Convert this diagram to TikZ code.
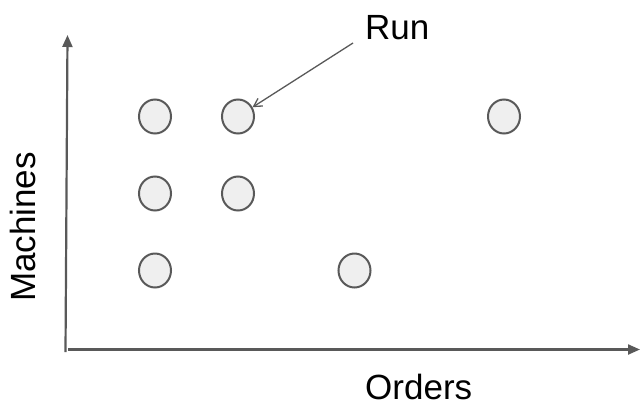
\documentclass[tikz,border=0pt]{standalone}
\usepackage{fontspec}
\setmainfont{Liberation Sans}
\usetikzlibrary{arrows.meta,shapes.geometric}
\definecolor{axisgray}{HTML}{595959}
\definecolor{dotfill}{HTML}{EFEFEF}
\begin{document}
\begin{tikzpicture}[x=1pt,y=-1pt,
  dot/.style={ellipse,draw=axisgray,fill=dotfill,line width=2pt,minimum width=32pt,minimum height=34pt,inner sep=0pt},
  axis/.style={draw=axisgray,line width=2.2pt,-{Triangle[length=12pt,width=10pt]}},
  pointer/.style={draw=axisgray,line width=1.3pt,-{Straight Barb[length=8pt,width=9pt]}},
  lbl/.style={font=\fontsize{35}{40}\selectfont,inner sep=0pt}]
\useasboundingbox (0,0) rectangle (640,405);
\coordinate (o1) at (65.5,352);
\coordinate (ytop) at (67.5,35);
\coordinate (o2) at (68,349.5);
\coordinate (xend) at (640,349.5);
\draw[axis] (o1) -- (ytop);
\draw[axis] (o2) -- (xend);
\node[dot] (c11) at (155,116.5) {};
\node[dot] (c12) at (238,116.5) {};
\node[dot] (c13) at (504,116.5) {};
\node[dot] (c21) at (155,193.5) {};
\node[dot] (c22) at (238,193.5) {};
\node[dot] (c31) at (155,270.5) {};
\node[dot] (c32) at (354.5,270.5) {};
\node[lbl,anchor=base west] (run) at (365,39) {Run};
\coordinate (runend) at (353,43);
\draw[pointer] (runend) -- (c12);
\node[lbl,anchor=base west] (orders) at (365,399) {Orders};
\node[lbl,rotate=90,anchor=base] (machines) at (35,227) {Machines};
\end{tikzpicture}
\end{document}
